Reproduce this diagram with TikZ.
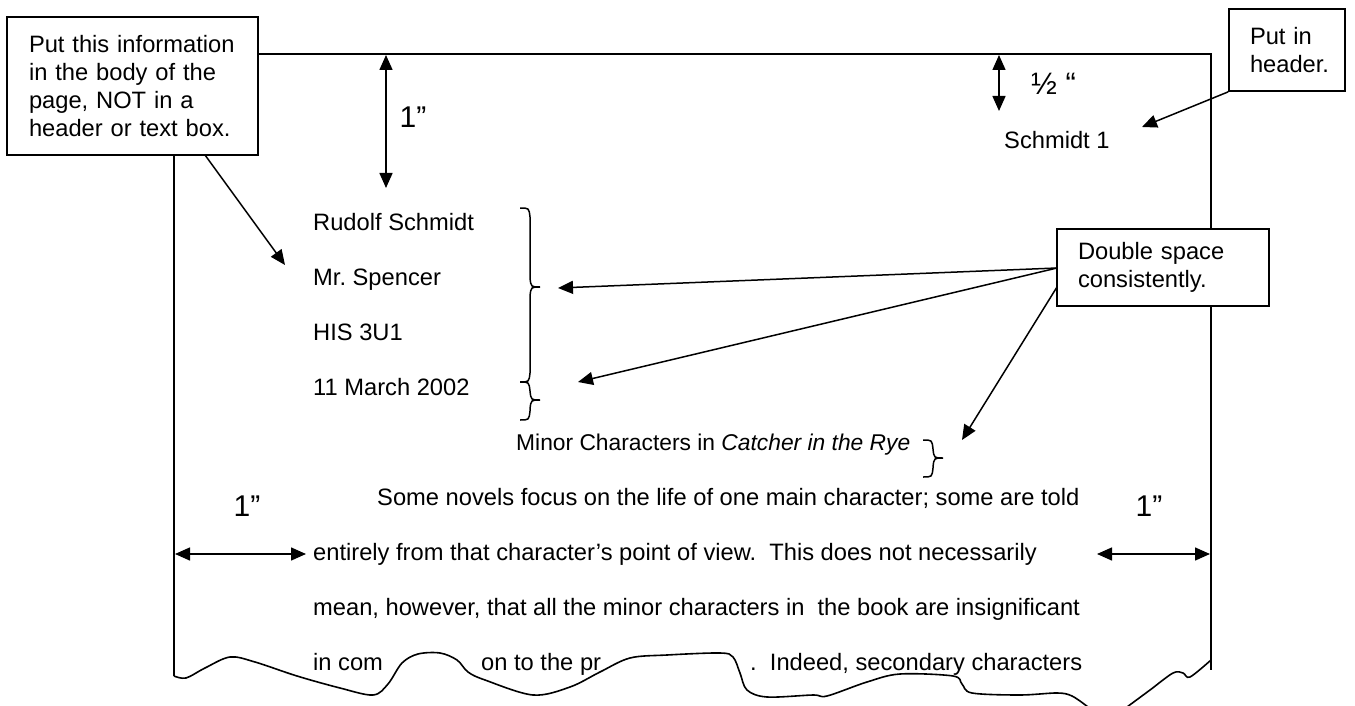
\documentclass[tikz,border=0pt]{standalone}
\usepackage{fontspec}
\setmainfont{Liberation Sans}
\usetikzlibrary{arrows.meta}
\frenchspacing
\newcommand{\mybrace}[4]{%
  \draw[brc] (#1,#2) .. controls (#1+9,#2) .. (#1+10,#2+9) -- (#1+10,#3-9)
    .. controls (#1+11,#3) .. (#1+20,#3) .. controls (#1+11,#3) .. (#1+10,#3+9)
    -- (#1+10,#4-9) .. controls (#1+9,#4) .. (#1,#4);}
\begin{document}
\begin{tikzpicture}[x=1pt,y=-1pt,
  every node/.style={inner sep=0pt, font=\fontsize{23.7}{28}\selectfont},
  page/.style={line width=1.8pt, line join=miter},
  box/.style={draw, fill=white, line width=1.8pt, align=left, inner ysep=0pt},
  arr/.style={line width=1.5pt, -{Triangle[length=15pt,width=13pt]}},
  darr/.style={line width=1.5pt, {Triangle[length=15pt,width=13pt]}-{Triangle[length=15pt,width=13pt]}},
  body/.style={anchor=base west},
  big/.style={font=\fontsize{30}{34}\selectfont},
  wave/.style={line width=1.6pt, line join=round},
  brc/.style={line width=1.5pt}]
\useasboundingbox (0,0) rectangle (1355,706);

% page outline
\draw[page] (174,676) -- (174,54) -- (1211,54) -- (1211,670);
\draw[wave] plot[smooth, tension=0.55] coordinates {(174,676) (186,678) (205,668) (230,657) (255,662) (297,676) (340,688) (373,695) (388,684) (402,663) (418,654) (440,653) (457,660) (468,672) (485,680) (533,695) (570,687) (600,672) (630,658) (667,655) (720,653) (733,657) (740,673) (747,690) (767,697) (813,695) (827,696) (867,682) (900,674) (953,676) (962,684) (972,693) (1020,695) (1057,693) (1072,696) (1088,707)};
\draw[wave] plot[smooth, tension=0.55] coordinates {(1127,707) (1150,690) (1173,673) (1183,673) (1190,677) (1211,660)};

% body text
\node[body] (l1) at (313,230) {Rudolf Schmidt};
\node[body] (l2) at (313,285) {Mr. Spencer};
\node[body] (l3) at (313,340) {HIS 3U1};
\node[body] (l4) at (313,395) {11 March 2002};
\node[body, font=\fontsize{22.8}{28}\selectfont] (title) at (516,450) {Minor Characters in \textit{Catcher in the Rye}};
\node[body] (p1) at (377,505) {Some novels focus on the life of one main character; some are told};
\node[body] (p2) at (313,560) {entirely from that character’s point of view.~ This does not necessarily};
\node[body] (p3) at (313,615) {mean, however, that all the minor characters in~ the book are insignificant};
\node[body] (p4a) at (313,670) {in com};
\node[body] (p4b) at (481,670) {on to the pr};
\node[body] (p4c) at (750,670) {.~ Indeed, secondary characters};
\node[body] (hdr) at (1004,149) {Schmidt 1};

% braces
\mybrace{520}{208}{287}{382}
\mybrace{520}{382}{400}{420}
\mybrace{923}{440}{458}{477}

% measurement arrows
\coordinate (topA) at (386,55);
\coordinate (topB) at (386,188);
\draw[darr] (topA) -- (topB);
\node[big] (oneT) at (413,117) {1”};
\coordinate (halfA) at (999,55);
\coordinate (halfB) at (999,111);
\draw[darr] (halfA) -- (halfB);
\node[body, font=\fontsize{31}{34}\selectfont] (half) at (1031,95) {½ “};
\coordinate (lhA) at (175,554);
\coordinate (lhB) at (306,554);
\draw[darr] (lhA) -- (lhB);
\node[big] (oneL) at (247,506) {1”};
\coordinate (rhA) at (1097,554);
\coordinate (rhB) at (1210,554);
\draw[darr] (rhA) -- (rhB);
\node[big] (oneR) at (1149,506) {1”};

% callout boxes
\node[box, minimum width=251, minimum height=138, text width=207, inner xsep=22] (infobox) at (132.5,86)
  {Put this information\\in the body of the\\page, NOT in a\\header or text box.};
\node[box, minimum width=116, minimum height=82, text width=74, inner xsep=21] (hdrbox) at (1287,50)
  {Put in\\header.};
\node[box, minimum width=212, minimum height=77, text width=170, inner xsep=21] (dsbox) at (1163,267.5)
  {Double space\\consistently.};

% callout arrows
\coordinate (lbfoot) at (205,155);
\coordinate (lbtip) at (285,265);
\draw[arr] (lbfoot) -- (lbtip);
\coordinate (hdtip) at (1142,127);
\draw[arr] (hdrbox.south west) -- (hdtip);
\coordinate (ds1) at (1057,268);
\coordinate (ds3) at (1057,287);
\coordinate (t1) at (558,288);
\coordinate (t2) at (578,382);
\coordinate (t3) at (962,440);
\draw[arr] (ds1) -- (t1);
\draw[arr] (ds1) -- (t2);
\draw[arr] (ds3) -- (t3);
\end{tikzpicture}
\end{document}
